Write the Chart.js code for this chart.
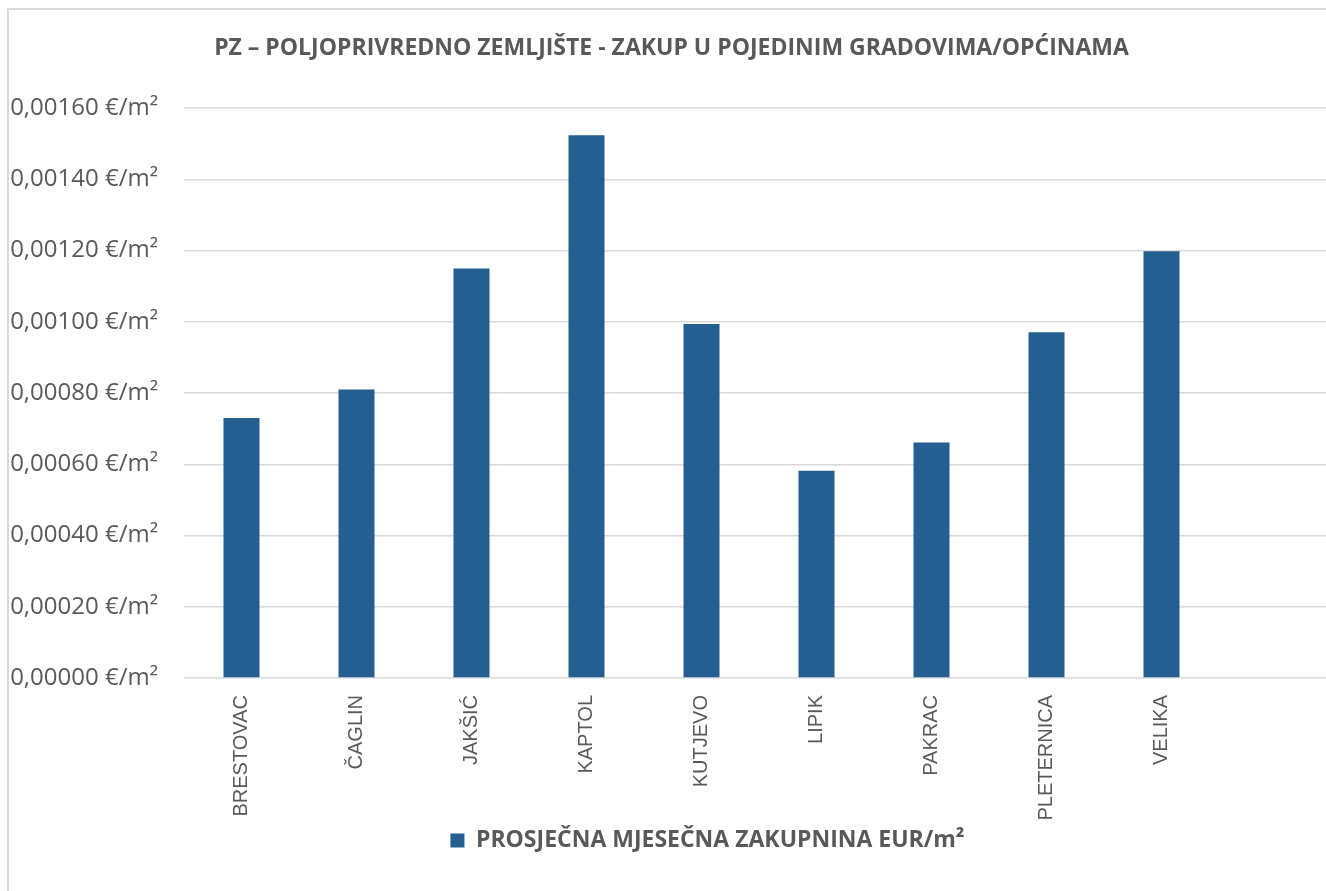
<!DOCTYPE html>
<html>
<head>
<meta charset="utf-8">
<script src="https://cdn.jsdelivr.net/npm/chart.js@4"></script>
<style>
    html, body { margin: 0; padding: 0; background: #fff; overflow: hidden; }
    #frame {
        position: absolute; left: 7px; top: 8px;
        width: 1340px; height: 900px;
        border: 2px solid #d9d9d9; background: #fff;
    }
    #wrap { position: absolute; left: 0; top: 0; width: 1335px; height: 890px; }
</style>
</head>
<body>
<div id="frame"><div id="wrap"><canvas id="myChart"></canvas></div></div>
<script>
// categories (last slot is left empty, like in the original sheet)
const cities = ["BRESTOVAC", "ČAGLIN", "JAKŠIĆ", "KAPTOL", "KUTJEVO", "LIPIK", "PAKRAC", "PLETERNICA", "VELIKA", ""];
const rentValues = [0.00073, 0.00081, 0.00115, 0.001524, 0.000994, 0.000582, 0.000661, 0.000971, 0.001198, null];
const seriesName = "PROSJEČNA MJESEČNA ZAKUPNINA EUR/m²";
const chartTitle = "PZ – POLJOPRIVREDNO ZEMLJIŠTE - ZAKUP U POJEDINIM GRADOVIMA/OPĆINAMA";
const yMin = 0, yMax = 0.0016, yStep = 0.0002;

const grey = "#595959";

document.addEventListener("DOMContentLoaded", function(){
    initChart();
});

function formatEuro(v){
    return v.toFixed(5).replace(".", ",") + " €/m²";
}

// legend sits a bit right of centre in the original
const legendShift = {
    id: "legendShift",
    afterLayout: function(chart){
        chart.legend.left += 36;
        chart.legend.right += 36;
    }
};

function initChart(){
    const ctx = document.getElementById("myChart").getContext("2d");
    new Chart(ctx, {
        type: "bar",
        data: {
            labels: cities,
            datasets: [{
                label: seriesName,
                data: rentValues,
                backgroundColor: "#255e91",
                borderColor: "#255e91",
                borderWidth: 0,
                barPercentage: 1,
                categoryPercentage: 36 / 115
            }]
        },
        plugins: [legendShift],
        options: {
            responsive: true,
            maintainAspectRatio: false,
            animation: false,
            layout: {
                padding: { left: 0, right: 10, top: 0, bottom: 38 }
            },
            plugins: {
                tooltip: { enabled: false },
                title: {
                    display: true,
                    text: chartTitle,
                    color: grey,
                    font: { family: "Open Sans", size: 23, weight: "bold" },
                    padding: { top: 25, bottom: 45.5 }
                },
                legend: {
                    position: "bottom",
                    labels: {
                        color: grey,
                        boxWidth: 14,
                        boxHeight: 14,
                        font: { family: "Open Sans", size: 23, weight: "bold" }
                    }
                }
            },
            scales: {
                x: {
                    grid: { display: false, drawTicks: false },
                    border: { display: false },
                    ticks: {
                        color: grey,
                        minRotation: 90,
                        maxRotation: 90,
                        autoSkip: false,
                        padding: 17,
                        font: { family: "Liberation Sans", size: 20 }
                    },
                    afterFit: function(scale){ scale.height = 141; }
                },
                y: {
                    min: yMin,
                    max: yMax,
                    grid: { color: "#d9d9d9", lineWidth: 1.5, drawTicks: false },
                    border: { display: false },
                    ticks: {
                        stepSize: yStep,
                        color: grey,
                        padding: 26,
                        font: { family: "Open Sans", size: 24 },
                        callback: function(value){ return formatEuro(value); }
                    },
                    afterFit: function(scale){ scale.width = 175; }
                }
            }
        }
    });
}
</script>
</body>
</html>
